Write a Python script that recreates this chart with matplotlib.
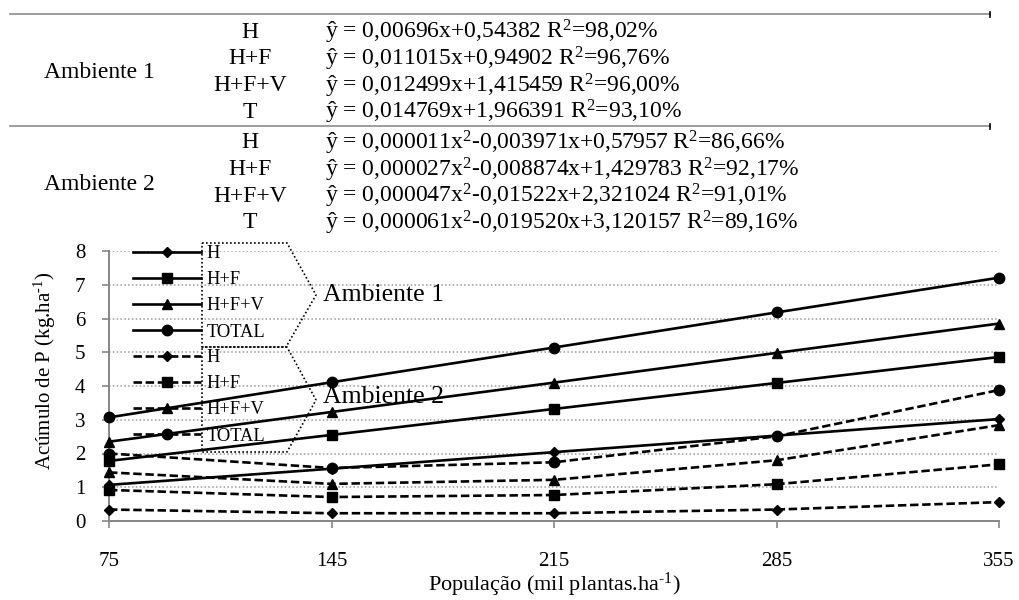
import matplotlib
matplotlib.use("Agg")
import matplotlib.pyplot as plt
from matplotlib.lines import Line2D

plt.rcParams['font.family'] = ['Liberation Serif', 'DejaVu Serif']
plt.rcParams['mathtext.fontset'] = 'custom'
plt.rcParams['mathtext.rm'] = 'Liberation Serif'
plt.rcParams['mathtext.it'] = 'Liberation Serif:italic'

# population (mil plantas/ha)
populacao = [75, 145, 215, 285, 355]

# Ambiente 1 (solid lines)
amb1_h = [1.07, 1.55, 2.04, 2.53, 3.02]
amb1_hf = [1.78, 2.55, 3.32, 4.09, 4.86]
amb1_hfv = [2.35, 3.23, 4.10, 4.98, 5.85]
amb1_total = [3.07, 4.11, 5.14, 6.18, 7.21]

# Ambiente 2 (dashed lines)
amb2_h = [0.34, 0.23, 0.23, 0.34, 0.56]
amb2_hf = [0.92, 0.71, 0.77, 1.09, 1.68]
amb2_hfv = [1.44, 1.10, 1.22, 1.80, 2.84]
amb2_total = [2.00, 1.57, 1.74, 2.51, 3.88]

labels = ['H', 'H+F', 'H+F+V', 'TOTAL']
markers = ['D', 's', '^', 'o']
msizes = [5.5, 7, 7, 7.5]

eq_labels = ['H', 'H+F', 'H+F+V', 'T']
eq_amb1 = [r'ŷ = 0,00696x+0,54382 R$^2$=98,02%',
           r'ŷ = 0,011015x+0,94902 R$^2$=96,76%',
           r'ŷ = 0,012499x+1,415459 R$^2$=96,00%',
           r'ŷ = 0,014769x+1,966391 R$^2$=93,10%']
eq_amb2 = [r'ŷ = 0,000011x$^2$-0,003971x+0,57957 R$^2$=86,66%',
           r'ŷ = 0,000027x$^2$-0,008874x+1,429783 R$^2$=92,17%',
           r'ŷ = 0,000047x$^2$-0,01522x+2,321024 R$^2$=91,01%',
           r'ŷ = 0,000061x$^2$-0,019520x+3,120157 R$^2$=89,16%']

W, H = 1019, 600
fig = plt.figure(figsize=(W / 100, H / 100), dpi=100)


def fx(px):
    return px / W


def fy(py):
    return 1 - py / H


ax = fig.add_axes([fx(109), fy(521), fx(999) - fx(109), fy(251) - fy(521)])

grey = '#868686'
lw = 1.9
dash = (0, (3.2, 1.4))

amb1 = [amb1_h, amb1_hf, amb1_hfv, amb1_total]
amb2 = [amb2_h, amb2_hf, amb2_hfv, amb2_total]

h1, h2 = [], []
for vals, m, ms, lab in zip(amb2, markers, msizes, labels):
    ln, = ax.plot(populacao, vals, color='black', lw=lw, ls=dash, marker=m,
                  ms=ms, clip_on=False, zorder=3, label=lab)
    h2.append(ln)
for vals, m, ms, lab in zip(amb1, markers, msizes, labels):
    ln, = ax.plot(populacao, vals, color='black', lw=lw, marker=m, ms=ms,
                  clip_on=False, zorder=4, label=lab)
    h1.append(ln)

ax.set_xlim(75, 355)
ax.set_ylim(0, 8)
ax.set_xticks(populacao)
ax.set_yticks(range(0, 9))
ax.yaxis.grid(True, color='#9a9a9a', ls=(0, (1, 1.5)), lw=1.1)
ax.set_axisbelow(True)
for s in ['top', 'right']:
    ax.spines[s].set_visible(False)
for s in ['left', 'bottom']:
    ax.spines[s].set_color(grey)
    ax.spines[s].set_linewidth(1.4)
ax.tick_params(axis='y', colors=grey, labelcolor='black', length=5,
               width=1.2, labelsize=15, pad=12)
ax.tick_params(axis='x', colors=grey, labelcolor='black', length=5,
               width=1.2, labelsize=15, pad=17)

fig.text(fx(45), fy(371), r'Acúmulo de P (kg.ha$^{\text{-1}}$)', rotation=90,
         ha='center', va='center', fontsize=15)
fig.text(fx(554), fy(585), r'População (mil plantas.ha$^{\text{-1}}$)',
         ha='center', va='center', fontsize=16)

# legends
leg_kw = dict(frameon=False, fontsize=13.3, handlelength=3.7,
              handletextpad=0.3, labelspacing=0.5, borderpad=0,
              borderaxespad=0, loc='upper left')
leg1 = fig.legend(handles=h1, bbox_to_anchor=(fx(133), fy(245)), **leg_kw)
leg2 = fig.legend(handles=h2, bbox_to_anchor=(fx(133), fy(349)), **leg_kw)

# dotted arrow-shaped frames
pent1 = [(202, 243), (287, 243), (316, 295), (286, 347), (202, 347), (202, 243)]
pent2 = [(202, 347), (287, 347), (316, 400), (287, 452), (202, 452), (202, 347)]
for pts in (pent1, pent2):
    fig.add_artist(Line2D([fx(p[0]) for p in pts], [fy(p[1]) for p in pts],
                          color='black', lw=1.2, ls=(0, (1, 1.4))))
fig.text(fx(323), fy(295), 'Ambiente 1', fontsize=18.5, va='center', ha='left')
fig.text(fx(323), fy(397), 'Ambiente 2', fontsize=18.5, va='center', ha='left')

# equation table on top
for py in (14, 126):
    fig.add_artist(Line2D([fx(10), fx(990)], [fy(py), fy(py)],
                          color='#8c8c8c', lw=1.2))
    fig.add_artist(Line2D([fx(990), fx(990)], [fy(py - 2), fy(py + 3)],
                          color='black', lw=1.2))

tfs = 17
fig.text(fx(99), fy(72), 'Ambiente 1', fontsize=tfs, ha='center', va='center')
fig.text(fx(99), fy(185), 'Ambiente 2', fontsize=tfs, ha='center', va='center')
for i in range(4):
    y1 = 32 + 26.7 * i
    y2 = 143 + 26.5 * i
    fig.text(fx(250), fy(y1), eq_labels[i], fontsize=tfs, ha='center', va='center')
    fig.text(fx(325), fy(y1), eq_amb1[i], fontsize=tfs, ha='left', va='center')
    fig.text(fx(250), fy(y2), eq_labels[i], fontsize=tfs, ha='center', va='center')
    fig.text(fx(325), fy(y2), eq_amb2[i], fontsize=tfs, ha='left', va='center')

fig.savefig('out.png', dpi=100)
